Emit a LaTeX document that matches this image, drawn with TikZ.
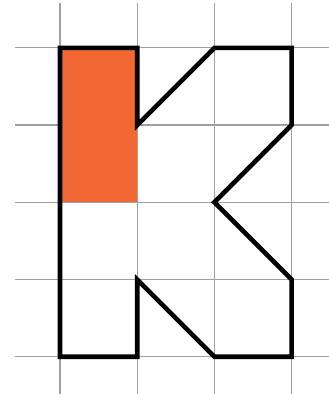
\documentclass[tikz,border=0pt]{standalone}
\usepackage{tikz}
\usetikzlibrary{calc}
\definecolor{kfill}{RGB}{242,104,52}
\definecolor{kgrid}{RGB}{160,160,160}

\begin{document}
\begin{tikzpicture}[scale=1]
\useasboundingbox (-0.777,-0.483) rectangle (3.484,4.62);
% kratka
\foreach \x in {0,...,3}
  \draw[kgrid,line width=0.45pt] (\x,-0.483) -- (\x,4.58);
\foreach \y in {0,...,4}
  \draw[kgrid,line width=0.45pt] (-0.583,\y) -- (3.484,\y);
% zamalowana część
\fill[kfill] (0,2) rectangle (1,4);
% litera K
\draw[black,line width=1.7pt,line join=miter]
  (0,4) -- (1,4) -- (1,3) -- (2,4) -- (3,4) -- (3,3) -- (2,2)
  -- (3,1) -- (3,0) -- (2,0) -- (1,1) -- (1,0) -- (0,0) -- cycle;
\end{tikzpicture}
\end{document}
